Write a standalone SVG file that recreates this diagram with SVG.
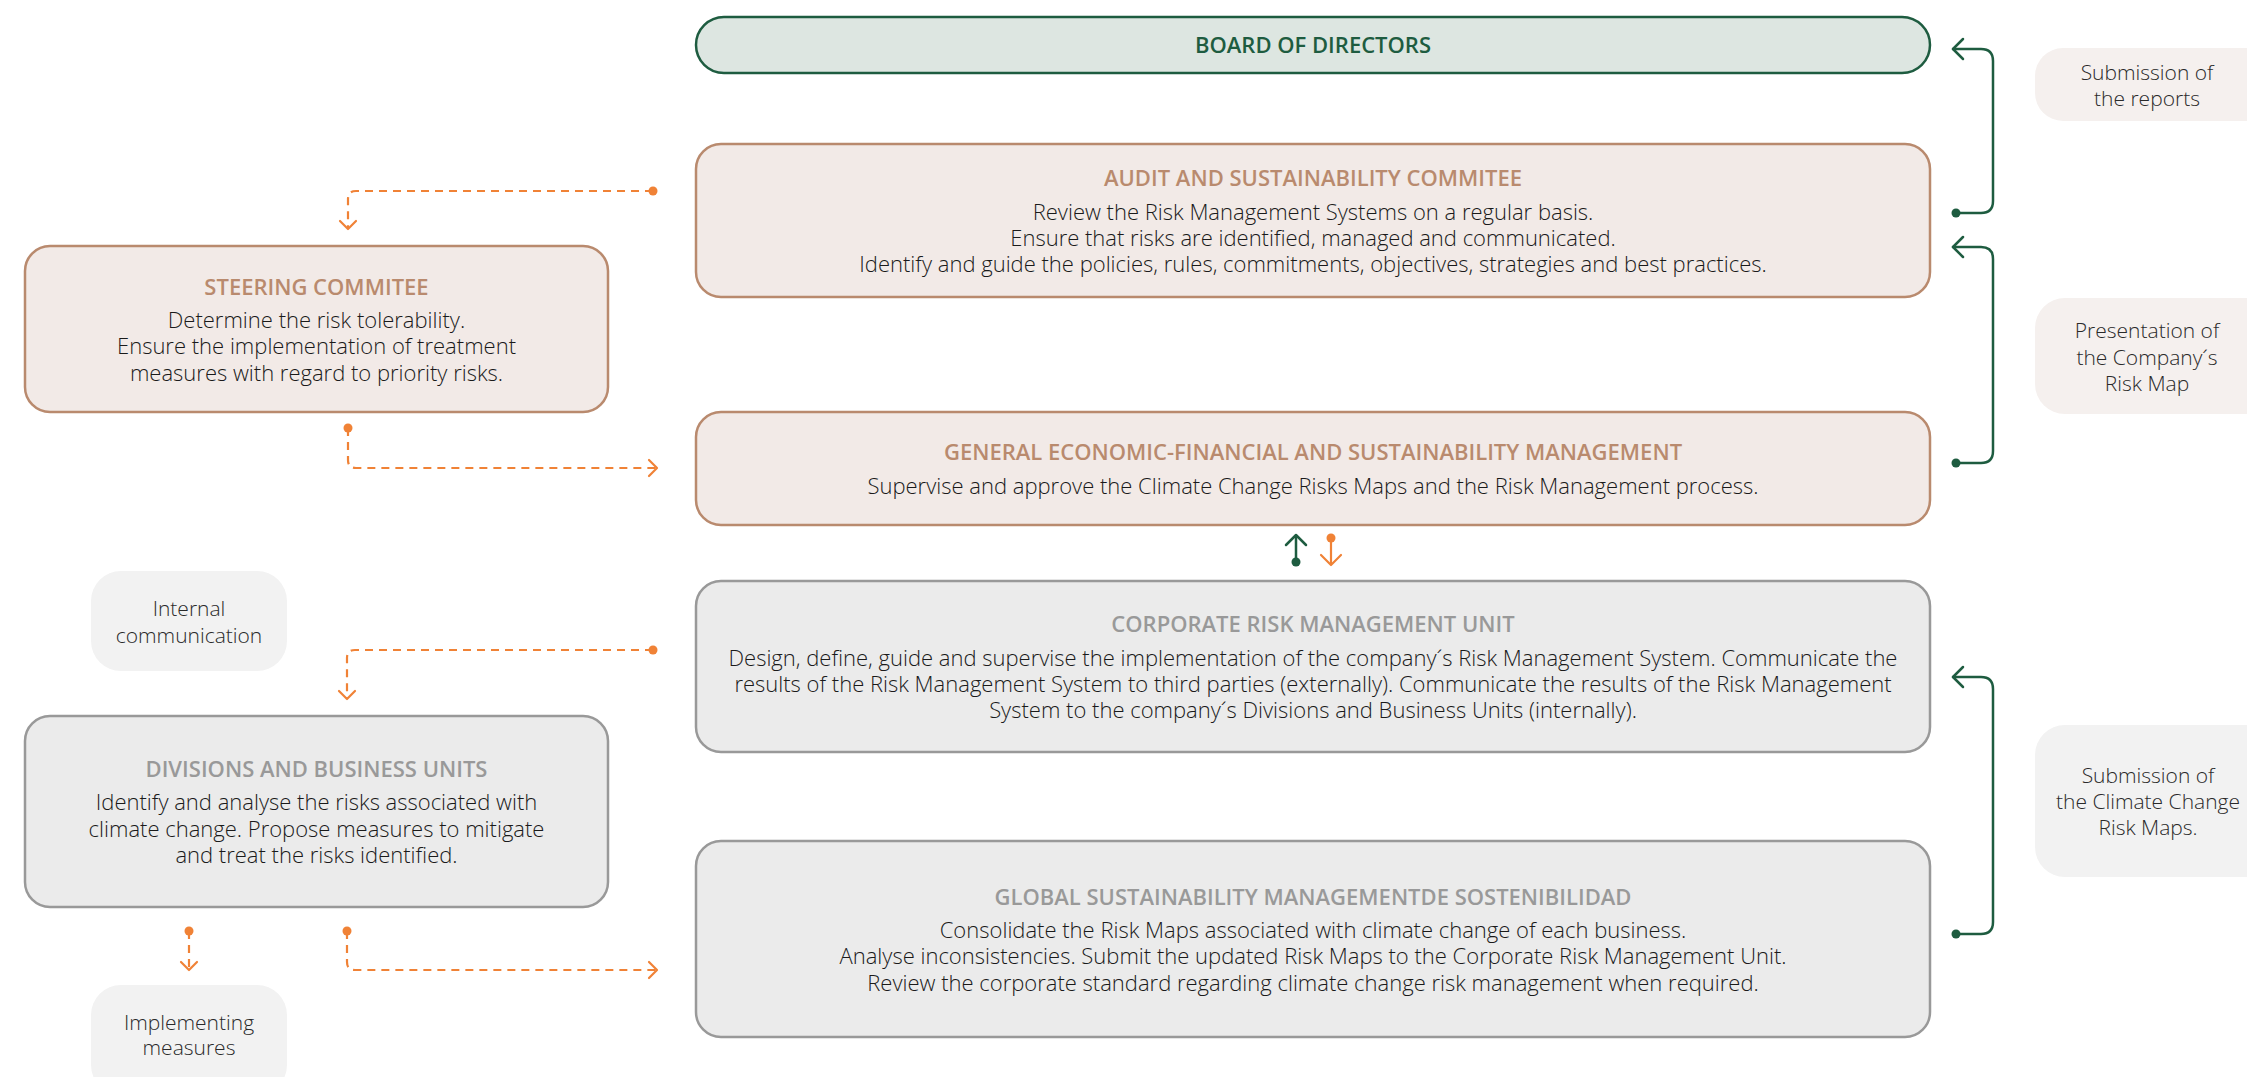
<svg xmlns="http://www.w3.org/2000/svg" width="2247" height="1077" viewBox="0 0 2247 1077">
  <style>
    .board { fill: #dde6e1; stroke: #1e5c40; stroke-width: 2.5; }
    .warm { fill: #f2eae7; stroke: #b98a6e; stroke-width: 2.5; }
    .grey { fill: #ebebeb; stroke: #999999; stroke-width: 2.5; }
    .tag-warm { fill: #f5f0ee; }
    .tag-grey { fill: #f2f2f2; }
    text { font-family: "Open Sans", "Noto Sans", "Liberation Sans", sans-serif; text-anchor: middle; }
    .t-board { font-size: 22px; font-weight: 600; fill: #1e5c40; }
    .t-warm { font-size: 22px; font-weight: 600; fill: #b98a6e; }
    .t-grey { font-size: 22px; font-weight: 600; fill: #999999; }
    .body { font-size: 22px; font-weight: 300; fill: #1a1a1a; }
    .tag { font-size: 21px; font-weight: 300; fill: #2a2a2a; }
    .g-line { fill: none; stroke: #1e5c40; stroke-width: 2.5; stroke-linecap: round; stroke-linejoin: round; }
    .g-dot { fill: #1e5c40; }
    .o-dash { fill: none; stroke: #f08236; stroke-width: 2.2; stroke-dasharray: 8 6; }
    .o-line { fill: none; stroke: #f08236; stroke-width: 2.2; stroke-linecap: round; stroke-linejoin: round; }
    .o-dot { fill: #f08236; }
  </style>

  <!-- Central hierarchy -->
  <g id="board-of-directors">
    <rect class="board" x="696" y="17" width="1234" height="56" rx="28"/>
    <text class="t-board" x="1313" y="53">BOARD OF DIRECTORS</text>
  </g>

  <g id="audit-committee">
    <rect class="warm" x="696" y="144" width="1234" height="153" rx="25"/>
    <text class="t-warm" x="1313" y="186">AUDIT AND SUSTAINABILITY COMMITEE</text>
    <text class="body" x="1313" y="220">Review the Risk Management Systems on a regular basis.</text>
    <text class="body" x="1313" y="246">Ensure that risks are identified, managed and communicated.</text>
    <text class="body" x="1313" y="272">Identify and guide the policies, rules, commitments, objectives, strategies and best practices.</text>
  </g>

  <g id="general-management">
    <rect class="warm" x="696" y="412" width="1234" height="113" rx="25"/>
    <text class="t-warm" x="1313" y="460">GENERAL ECONOMIC-FINANCIAL AND SUSTAINABILITY MANAGEMENT</text>
    <text class="body" x="1313" y="494">Supervise and approve the Climate Change Risks Maps and the Risk Management process.</text>
  </g>

  <g id="corporate-risk-unit">
    <rect class="grey" x="696" y="581" width="1234" height="171" rx="25"/>
    <text class="t-grey" x="1313" y="632">CORPORATE RISK MANAGEMENT UNIT</text>
    <text class="body" x="1313" y="666">Design, define, guide and supervise the implementation of the company´s Risk Management System. Communicate the</text>
    <text class="body" x="1313" y="692">results of the Risk Management System to third parties (externally). Communicate the results of the Risk Management</text>
    <text class="body" x="1313" y="718">System to the company´s Divisions and Business Units (internally).</text>
  </g>

  <g id="global-sustainability">
    <rect class="grey" x="696" y="841" width="1234" height="196" rx="25"/>
    <text class="t-grey" x="1313" y="905">GLOBAL SUSTAINABILITY MANAGEMENTDE SOSTENIBILIDAD</text>
    <text class="body" x="1313" y="938">Consolidate the Risk Maps associated with climate change of each business.</text>
    <text class="body" x="1313" y="964">Analyse inconsistencies. Submit the updated Risk Maps to the Corporate Risk Management Unit.</text>
    <text class="body" x="1313" y="991">Review the corporate standard regarding climate change risk management when required.</text>
  </g>

  <!-- Left column -->
  <g id="steering-committee">
    <rect class="warm" x="25" y="246" width="583" height="166" rx="25"/>
    <text class="t-warm" x="316.5" y="295">STEERING COMMITEE</text>
    <text class="body" x="316.5" y="328">Determine the risk tolerability.</text>
    <text class="body" x="316.5" y="354">Ensure the implementation of treatment</text>
    <text class="body" x="316.5" y="381">measures with regard to priority risks.</text>
  </g>

  <g id="internal-communication">
    <rect class="tag-grey" x="91" y="571" width="196" height="100" rx="30"/>
    <text class="tag" x="189" y="616">Internal</text>
    <text class="tag" x="189" y="643">communication</text>
  </g>

  <g id="divisions-business-units">
    <rect class="grey" x="25" y="716" width="583" height="191" rx="25"/>
    <text class="t-grey" x="316.5" y="777">DIVISIONS AND BUSINESS UNITS</text>
    <text class="body" x="316.5" y="810">Identify and analyse the risks associated with</text>
    <text class="body" x="316.5" y="837">climate change. Propose measures to mitigate</text>
    <text class="body" x="316.5" y="863">and treat the risks identified.</text>
  </g>

  <g id="implementing-measures">
    <rect class="tag-grey" x="91" y="985" width="196" height="110" rx="30"/>
    <text class="tag" x="189" y="1030">Implementing</text>
    <text class="tag" x="189" y="1055">measures</text>
  </g>

  <!-- Right column labels -->
  <g id="submission-reports">
    <rect class="tag-warm" x="2035" y="48" width="240" height="73" rx="28"/>
    <text class="tag" x="2147" y="80">Submission of</text>
    <text class="tag" x="2147" y="106">the reports</text>
  </g>

  <g id="presentation-risk-map">
    <rect class="tag-warm" x="2035" y="298" width="240" height="116" rx="30"/>
    <text class="tag" x="2147" y="338">Presentation of</text>
    <text class="tag" x="2147" y="365">the Company´s</text>
    <text class="tag" x="2147" y="391">Risk Map</text>
  </g>

  <g id="submission-climate-maps">
    <rect class="tag-grey" x="2035" y="725" width="240" height="152" rx="30"/>
    <text class="tag" x="2148" y="783">Submission of</text>
    <text class="tag" x="2148" y="809">the Climate Change</text>
    <text class="tag" x="2148" y="835">Risk Maps.</text>
  </g>

  <!-- Connectors -->
  <g id="connectors">
    <!-- reporting brackets on the right -->
    <path class="g-line" d="M1956,213 H1981 Q1993,213 1993,201 V61 Q1993,49 1981,49 H1953"/>
    <path class="g-line" d="M1963,39 L1953,49 L1963,59"/>
    <circle class="g-dot" cx="1956" cy="213" r="4.5"/>

    <path class="g-line" d="M1956,463 H1981 Q1993,463 1993,451 V259 Q1993,247 1981,247 H1953"/>
    <path class="g-line" d="M1963,237 L1953,247 L1963,257"/>
    <circle class="g-dot" cx="1956" cy="463" r="4.5"/>

    <path class="g-line" d="M1956,934 H1981 Q1993,934 1993,922 V689 Q1993,677 1981,677 H1953"/>
    <path class="g-line" d="M1963,667 L1953,677 L1963,687"/>
    <circle class="g-dot" cx="1956" cy="934" r="4.5"/>

    <!-- exchange between management and the risk unit -->
    <path class="g-line" d="M1296,562 V536"/>
    <path class="g-line" d="M1286,545 L1296,535 L1306,545"/>
    <circle class="g-dot" cx="1296" cy="562" r="4.5"/>

    <path class="o-line" d="M1331,538 V564"/>
    <path class="o-line" d="M1321,555 L1331,565 L1341,555"/>
    <circle class="o-dot" cx="1331" cy="538" r="4.5"/>

    <!-- audit committee to steering committee -->
    <path class="o-dash" d="M653,191 H356 Q348,191 348,199 V228"/>
    <path class="o-line" d="M340,221 L348,229 L356,221"/>
    <circle class="o-dot" cx="653" cy="191" r="4.5"/>

    <!-- steering committee to general management -->
    <path class="o-dash" d="M348,428 V460 Q348,468 356,468 H656"/>
    <path class="o-line" d="M649,460 L657,468 L649,476"/>
    <circle class="o-dot" cx="348" cy="428" r="4.5"/>

    <!-- risk unit to divisions -->
    <path class="o-dash" d="M653,650 H355 Q347,650 347,658 V698"/>
    <path class="o-line" d="M339,691 L347,699 L355,691"/>
    <circle class="o-dot" cx="653" cy="650" r="4.5"/>

    <!-- divisions to implementing measures -->
    <path class="o-dash" d="M189,931 V969"/>
    <path class="o-line" d="M181,962 L189,970 L197,962"/>
    <circle class="o-dot" cx="189" cy="931" r="4.5"/>

    <!-- divisions to global sustainability -->
    <path class="o-dash" d="M347,931 V962 Q347,970 355,970 H656"/>
    <path class="o-line" d="M649,962 L657,970 L649,978"/>
    <circle class="o-dot" cx="347" cy="931" r="4.5"/>
  </g>
</svg>
